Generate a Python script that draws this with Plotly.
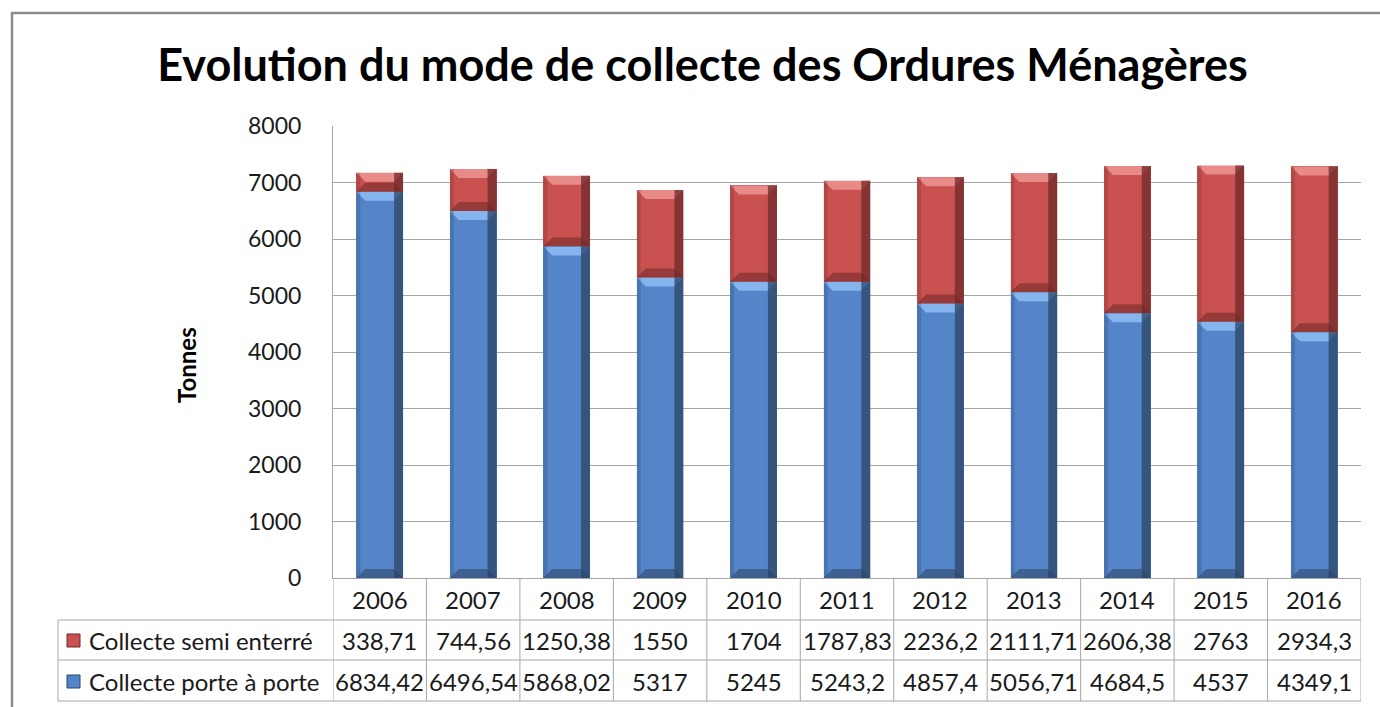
import plotly.graph_objects as go

years = ["2006", "2007", "2008", "2009", "2010", "2011", "2012", "2013", "2014", "2015", "2016"]
semi_enterre = [338.71, 744.56, 1250.38, 1550, 1704, 1787.83, 2236.2, 2111.71, 2606.38, 2763, 2934.3]
porte_a_porte = [6834.42, 6496.54, 5868.02, 5317, 5245, 5243.2, 4857.4, 5056.71, 4684.5, 4537, 4349.1]
series_names = ["Collecte semi enterré", "Collecte porte à porte"]
y_ticks = [0, 1000, 2000, 3000, 4000, 5000, 6000, 7000, 8000]

W, H = 1380, 707
L, R, T, B = 333, 19, 126, 129
PW, PH = W - L - R, H - T - B
FONT = "Lato"
TXT = "#1a1a1a"

BLUE, BLUE_L, BLUE_D = "#5485C8", "#86B4EE", "#2B4466"
RED, RED_L, RED_D = "#C9514F", "#E88A88", "#6E2A29"

def px_x(px):
    return (px - L) / PW

def px_y(py):
    return (H - B - py) / PH

def fmt(v):
    return f"{v:g}".replace(".", ",")

xs = list(range(len(years)))
fig = go.Figure()
fig.add_trace(go.Bar(x=xs, y=porte_a_porte, name=series_names[1], marker=dict(color=BLUE, line=dict(width=0)), width=0.5))
fig.add_trace(go.Bar(x=xs, y=semi_enterre, name=series_names[0], marker=dict(color=RED, line=dict(width=0)), width=0.5))

shapes = []
annotations = []

# bevel decoration on each bar segment (pixel-sized, anchored to data)
cat_px = PW / len(years)
bw = 0.5 * cat_px / 2  # half bar width in px
bv = 9
for i in xs:
    segs = [(0, porte_a_porte[i], BLUE, BLUE_L, BLUE_D),
            (porte_a_porte[i], porte_a_porte[i] + semi_enterre[i], RED, RED_L, RED_D)]
    for y0, y1, c, cl, cd in segs:
        shapes.append(dict(type="path", xref="x", yref="y", xsizemode="pixel", ysizemode="pixel",
                           xanchor=i, yanchor=y1,
                           path=f"M{-bw},0 L{bw},0 L{bw-bv},{-bv} L{-bw+bv},{-bv} Z",
                           fillcolor=cl, line=dict(width=0), layer="above"))
        shapes.append(dict(type="path", xref="x", yref="y", xsizemode="pixel", ysizemode="pixel",
                           xanchor=i, yanchor=y0,
                           path=f"M{-bw},0 L{bw},0 L{bw-bv},{bv} L{-bw+bv},{bv} Z",
                           fillcolor=cd, opacity=0.55, line=dict(width=0), layer="above"))
        shapes.append(dict(type="rect", xref="x", yref="y", x0=i + 0.25 - bv / cat_px, x1=i + 0.25,
                           y0=y0, y1=y1, fillcolor=cd, opacity=0.75, line=dict(width=0), layer="above"))
        shapes.append(dict(type="rect", xref="x", yref="y", x0=i - 0.25, x1=i - 0.25 + 4 / cat_px,
                           y0=y0, y1=y1, fillcolor=cd, opacity=0.25, line=dict(width=0), layer="above"))

# data table
GRID = "#A6A6A6"
rows_py = [578, 620, 660, 701]
for i in range(len(years) + 1):
    shapes.append(dict(type="line", xref="x", yref="paper", x0=i - 0.5, x1=i - 0.5,
                       y0=px_y(rows_py[0]), y1=px_y(rows_py[3]), line=dict(color=GRID, width=1)))
for py in rows_py[1:]:
    shapes.append(dict(type="line", xref="paper", yref="paper", x0=px_x(58), x1=1,
                       y0=px_y(py), y1=px_y(py), line=dict(color=GRID, width=1)))
shapes.append(dict(type="line", xref="paper", yref="paper", x0=px_x(58), x1=px_x(58),
                   y0=px_y(620), y1=px_y(701), line=dict(color=GRID, width=1)))

TFS = 24
for i, yr in enumerate(years):
    for py, txt in [(599, yr), (640, fmt(semi_enterre[i])), (681, fmt(porte_a_porte[i]))]:
        annotations.append(dict(x=i, y=px_y(py), xref="x", yref="paper", text=txt, showarrow=False,
                                xanchor="center", yanchor="middle",
                                font=dict(size=TFS, color=TXT, family=FONT)))

for name, py, c, cd in [(series_names[0], 640, RED, RED_D), (series_names[1], 681, BLUE, BLUE_D)]:
    shapes.append(dict(type="rect", xref="paper", yref="paper", x0=px_x(67), x1=px_x(80),
                       y0=px_y(py + 7), y1=px_y(py - 6), fillcolor=c, line=dict(color=cd, width=1)))
    annotations.append(dict(x=px_x(87), y=px_y(py), xref="paper", yref="paper", text=name, showarrow=False,
                            xanchor="left", yanchor="middle", font=dict(size=TFS, color=TXT, family=FONT)))

# outer frame
shapes.append(dict(type="rect", xref="paper", yref="paper", x0=px_x(12), x1=px_x(1400),
                   y0=px_y(720), y1=px_y(13), line=dict(color="#8C8C8C", width=2.5), layer="below"))

# y-axis title
annotations.append(dict(x=px_x(186), y=px_y(365), xref="paper", yref="paper", text="<b>Tonnes</b>",
                        textangle=-90, showarrow=False, xanchor="center", yanchor="middle",
                        font=dict(size=24, color="#000000", family=FONT)))

fig.update_layout(
    width=W, height=H,
    margin=dict(l=L, r=R, t=T, b=B),
    barmode="stack",
    showlegend=False,
    paper_bgcolor="white", plot_bgcolor="white",
    title=dict(text="<b>Evolution du mode de collecte des Ordures Ménagères</b>", x=(160 + 1245) / 2 / W,
               xanchor="center", y=1 - 65 / H, yanchor="middle",
               font=dict(size=45, color="#000000", family=FONT)),
    xaxis=dict(range=[-0.5, len(years) - 0.5], showticklabels=False, showgrid=False, zeroline=False,
               showline=True, linecolor=GRID, linewidth=1, ticks=""),
    yaxis=dict(range=[0, 8000], tickvals=y_ticks, showgrid=True, gridcolor=GRID, gridwidth=1,
               showline=True, linecolor=GRID, linewidth=1, zeroline=False, ticks="",
               tickfont=dict(size=23, color=TXT, family=FONT), ticklabelstandoff=26),
    shapes=shapes,
    annotations=annotations,
    font=dict(family=FONT),
)
fig.write_html("out.html", config={"displayModeBar": False},
               post_script="document.body.style.margin='0';document.body.style.overflow='hidden';")
